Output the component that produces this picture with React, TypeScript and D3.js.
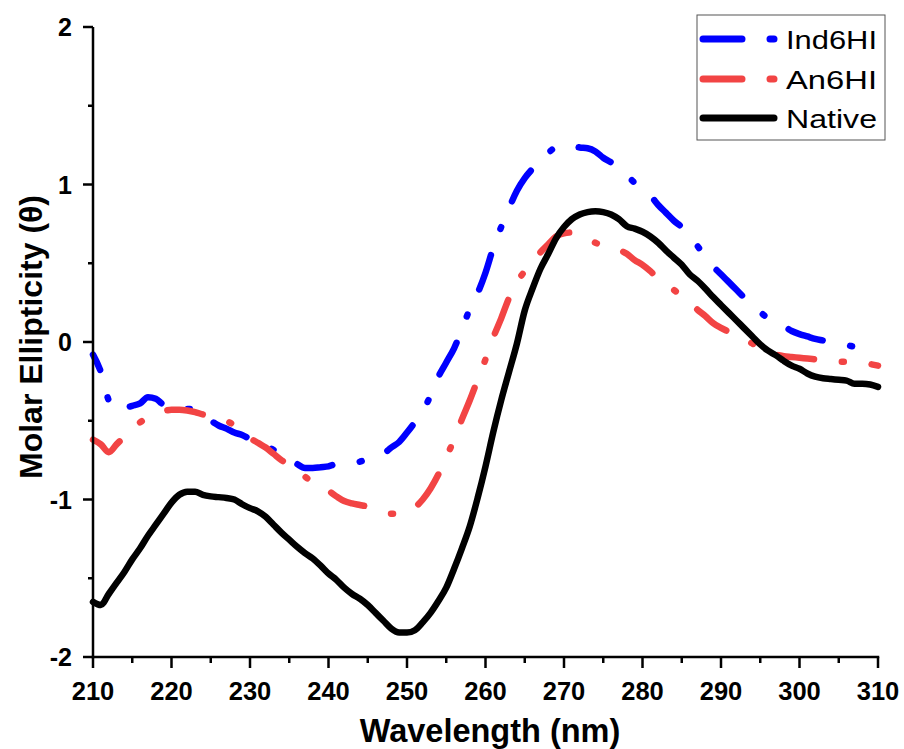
import React from "react";
import * as d3 from "d3";

const wavelengths: number[] = d3.range(210, 311);

const native: number[] = [
  -1.65, -1.67, -1.6, -1.53, -1.46, -1.38, -1.31, -1.23, -1.16, -1.09,
  -1.02, -0.97, -0.95, -0.95, -0.97, -0.98, -0.985, -0.99, -1.0, -1.03,
  -1.055, -1.075, -1.11, -1.16, -1.21, -1.255, -1.3, -1.34, -1.375, -1.42,
  -1.47, -1.51, -1.56, -1.6, -1.63, -1.67, -1.72, -1.77, -1.82, -1.845,
  -1.845, -1.83, -1.78, -1.72, -1.645, -1.56, -1.44, -1.31, -1.17, -0.99,
  -0.79, -0.57, -0.37, -0.19, -0.01, 0.2, 0.34, 0.465, 0.56, 0.66,
  0.73, 0.78, 0.81, 0.825, 0.83, 0.825, 0.81, 0.78, 0.735, 0.72,
  0.7, 0.67, 0.63, 0.58, 0.535, 0.49, 0.43, 0.39, 0.34, 0.285,
  0.235, 0.185, 0.135, 0.085, 0.035, -0.015, -0.055, -0.085, -0.12, -0.15,
  -0.17, -0.2, -0.22, -0.23, -0.235, -0.24, -0.245, -0.265, -0.265, -0.27,
  -0.285,
];

const ind6HI: number[] = [
  -0.08, -0.19, -0.37, -0.43, -0.42, -0.405, -0.39, -0.35, -0.36, -0.4,
  -0.42, -0.43, -0.425, -0.43, -0.47, -0.5, -0.53, -0.55, -0.575, -0.59,
  -0.615, -0.635, -0.66, -0.685, -0.71, -0.745, -0.775, -0.8, -0.8, -0.795,
  -0.79, -0.775, -0.775, -0.775, -0.76, -0.745, -0.73, -0.71, -0.67, -0.635,
  -0.575, -0.51, -0.44, -0.34, -0.22, -0.13, -0.04, 0.08, 0.21, 0.31,
  0.44, 0.6, 0.73, 0.85, 0.96, 1.04, 1.1, 1.15, 1.2, 1.24,
  1.25, 1.245, 1.235, 1.23, 1.21, 1.17, 1.14, 1.1, 1.06, 1.01,
  0.97, 0.93, 0.87, 0.82, 0.77, 0.73, 0.68, 0.61, 0.54, 0.48,
  0.43, 0.38, 0.33, 0.28, 0.235, 0.19, 0.15, 0.125, 0.1, 0.07,
  0.05, 0.035, 0.02, 0.01, 0.0, -0.01, -0.02, -0.03, -0.04, -0.05,
  -0.06,
];

const an6HI: number[] = [
  -0.62, -0.65, -0.7, -0.65, -0.6, -0.55, -0.51, -0.48, -0.46, -0.44,
  -0.43, -0.43, -0.435, -0.445, -0.46, -0.47, -0.48, -0.5, -0.53, -0.57,
  -0.61, -0.64, -0.67, -0.71, -0.75, -0.78, -0.815, -0.855, -0.89, -0.92,
  -0.945, -0.98, -1.01, -1.025, -1.035, -1.045, -1.06, -1.075, -1.09, -1.09,
  -1.08, -1.05, -1.0, -0.93, -0.84, -0.73, -0.62, -0.49, -0.37, -0.24,
  -0.11, 0.03, 0.15, 0.28, 0.38, 0.45, 0.51, 0.57, 0.62, 0.67,
  0.69, 0.695, 0.68, 0.655, 0.63, 0.61, 0.6, 0.585, 0.56, 0.52,
  0.49, 0.45, 0.4, 0.36, 0.33, 0.29, 0.25, 0.205, 0.165, 0.12,
  0.09, 0.065, 0.04, 0.02, -0.01, -0.04, -0.07, -0.08, -0.09, -0.095,
  -0.1, -0.105, -0.11, -0.12, -0.125, -0.125, -0.125, -0.125, -0.13, -0.14,
  -0.15,
];

const xMajorTicks: number[] = [210, 220, 230, 240, 250, 260, 270, 280, 290, 300, 310];
const xMinorTicks: number[] = [215, 225, 235, 245, 255, 265, 275, 285, 295, 305];
const yMajorTicks: number[] = [-2, -1, 0, 1, 2];
const yMinorTicks: number[] = [-1.5, -0.5, 0.5, 1.5];

const seriesNames: string[] = ["Ind6HI", "An6HI", "Native"];
const seriesColors: string[] = ["#0000ff", "#f24444", "#000000"];

const W = 904;
const H = 749;
const M = { left: 93, right: 878, top: 27, bottom: 657 };
const FONT = "'Liberation Sans', Arial, sans-serif";

export default function App() {
  const x = d3.scaleLinear().domain([210, 310]).range([M.left, M.right]);
  const y = d3.scaleLinear().domain([-2, 2]).range([M.bottom, M.top]);
  const line = d3
    .line<number>()
    .x((_, i) => x(wavelengths[i]))
    .y((d) => y(d))
    .curve(d3.curveMonotoneX);

  const series = [
    { name: seriesNames[0], values: ind6HI, color: seriesColors[0], dash: "36 28 2 28", offset: 19 },
    { name: seriesNames[1], values: an6HI, color: seriesColors[1], dash: "36 28 2 28", offset: 0 },
    { name: seriesNames[2], values: native, color: seriesColors[2], dash: undefined as string | undefined, offset: 0 },
  ];

  const legendRows = [39, 79, 118];

  return (
    <svg
      width={W}
      height={H}
      style={{ position: "absolute", left: 0, top: 0, background: "#fff" }}
      fontFamily={FONT}
    >
      <rect x={0} y={0} width={W} height={H} fill="#fff" />
      {series.map((s) => (
        <path
          key={s.name}
          d={line(s.values) || ""}
          fill="none"
          stroke={s.color}
          strokeWidth={6.5}
          strokeLinecap="round"
          strokeLinejoin="round"
          strokeDasharray={s.dash}
          strokeDashoffset={s.offset}
        />
      ))}
      <line x1={M.left} x2={M.left} y1={M.top} y2={M.bottom + 1.25} stroke="#000" strokeWidth={2.5} />
      <line x1={M.left - 1.25} x2={M.right + 1.25} y1={M.bottom} y2={M.bottom} stroke="#000" strokeWidth={2.5} />
      {yMajorTicks.map((t) => (
        <g key={"ym" + t}>
          <line x1={M.left - 10} x2={M.left} y1={y(t)} y2={y(t)} stroke="#000" strokeWidth={2.5} />
          <text
            x={M.left - 21}
            y={y(t)}
            dy="0.36em"
            textAnchor="end"
            fontSize={25}
            fontWeight="bold"
          >
            {t}
          </text>
        </g>
      ))}
      {yMinorTicks.map((t) => (
        <line key={"yn" + t} x1={M.left - 5} x2={M.left} y1={y(t)} y2={y(t)} stroke="#000" strokeWidth={2.5} />
      ))}
      {xMajorTicks.map((t) => (
        <g key={"xm" + t}>
          <line x1={x(t)} x2={x(t)} y1={M.bottom} y2={M.bottom + 11} stroke="#000" strokeWidth={2.5} />
          <text x={x(t)} y={700} textAnchor="middle" fontSize={25.5} fontWeight="bold">
            {t}
          </text>
        </g>
      ))}
      {xMinorTicks.map((t) => (
        <line key={"xn" + t} x1={x(t)} x2={x(t)} y1={M.bottom} y2={M.bottom + 6} stroke="#000" strokeWidth={2.5} />
      ))}
      <text x={490} y={742} textAnchor="middle" fontSize={32.5} fontWeight="bold">
        Wavelength (nm)
      </text>
      <text
        transform={`translate(42, 337) rotate(-90)`}
        textAnchor="middle"
        fontSize={32}
        fontWeight="bold"
      >
        Molar Ellipticity (θ)
      </text>
      <rect x={697} y={15} width={188} height={125} fill="#fff" stroke="#555" strokeWidth={1} />
      {series.map((s, i) => (
        <g key={"lg" + s.name}>
          <line
            x1={703}
            x2={774}
            y1={legendRows[i]}
            y2={legendRows[i]}
            stroke={s.color}
            strokeWidth={7}
            strokeLinecap="round"
            strokeDasharray={s.dash ? "39 28 4 28" : undefined}
          />
          <text
            x={786}
            y={legendRows[i]}
            dy="0.38em"
            fontSize={26}
            textLength={91}
            lengthAdjust="spacingAndGlyphs"
          >
            {s.name}
          </text>
        </g>
      ))}
    </svg>
  );
}
